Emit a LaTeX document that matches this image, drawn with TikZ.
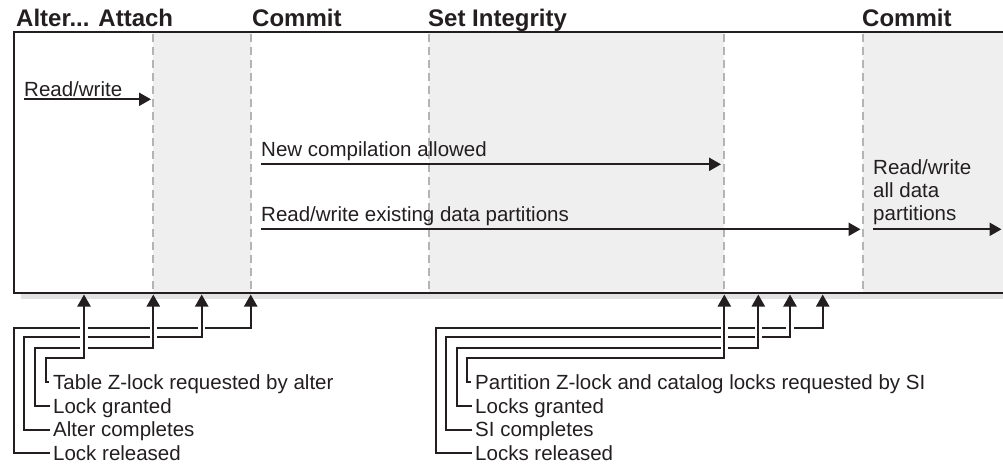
\documentclass[tikz,border=0pt]{standalone}
\usepackage{fontspec}
\setmainfont{Liberation Sans}
\usetikzlibrary{arrows.meta,calc}
\definecolor{phasegray}{HTML}{EFEFEF}
\definecolor{dashgray}{HTML}{B4B4B4}
\definecolor{shadowgray}{HTML}{E2E2E2}
\definecolor{ink}{HTML}{231F20}
\begin{document}
\begin{tikzpicture}[x=1pt,y=-1pt,
  title/.style={anchor=base west,inner sep=0pt,font=\fontsize{24}{28}\selectfont\bfseries,text=ink},
  lbl/.style={anchor=base west,inner sep=0pt,font=\fontsize{20.5}{23.3}\selectfont,text=ink},
  arr/.style={draw=ink,line width=2.2pt,-{Triangle[length=12pt,width=13pt]}},
  conn/.style={arr,preaction={draw=white,line width=7.5pt,arrows=-,shorten >=15pt}},
  divider/.style={draw=dashgray,line width=1.3pt,dash pattern=on 8pt off 5pt}]
\useasboundingbox (0,0) rectangle (1003,466);
% shaded phases
\fill[phasegray] (153,32.3) rectangle (251,292.7);
\fill[phasegray] (429,32.3) rectangle (724,292.7);
\fill[phasegray] (863,32.3) rectangle (1003,292.7);
\fill[shadowgray] (21,293) rectangle (1003,298.5);
% dividers
\foreach \x in {153,251,429,724,863} \draw[divider] (\x,33.5) -- (\x,291.7);
% box
\draw[ink,line width=2.2pt] (1003,32.3) -- (14,32.3) -- (14,292.7) -- (1003,292.7);
% titles
\node[title] (h1) at (16,26) {Alter... Attach};
\node[title] (h2) at (252,26) {Commit};
\node[title] (h3) at (428,26) {Set Integrity};
\node[title] (h4) at (862,26) {Commit};
% top arrows
\node[lbl] (rw1) at (24,96) {Read/write};
\coordinate (rw1e) at (151,99.3);
\draw[arr] (rw1.base west |- rw1e) -- (rw1e);
\node[lbl] (nc) at (261,156.7) {New compilation allowed};
\coordinate (nce) at (721,164.3);
\draw[arr] (nc.base west |- nce) -- (nce);
\node[lbl] (rwe) at (261,221.7) {Read/write existing data partitions};
\coordinate (rwee) at (860.5,229.3);
\draw[arr] (rwe.base west |- rwee) -- (rwee);
\node[lbl] (ra1) at (873,174) {Read/write};
\node[lbl] (ra2) at (873,197.3) {all data};
\node[lbl] (ra3) at (873,220.7) {partitions};
\coordinate (rae) at (1001.5,229.3);
\draw[arr] (ra3.base west |- rae) -- (rae);
% bottom left group
\node[lbl] (t1) at (53,389.3) {Table Z-lock requested by alter};
\node[lbl] (t2) at (53,413.3) {Lock granted};
\node[lbl] (t3) at (53,436.7) {Alter completes};
\node[lbl] (t4) at (53,460) {Lock released};
\coordinate (p1) at (84,294.5);
\coordinate (p2) at (153.3,294.5);
\coordinate (p3) at (201.7,294.5);
\coordinate (p4) at (250.7,294.5);
\draw[conn] ($(t4.base west)+(-3,-7)$) -| (14,327.7) -| (p4);
\draw[conn] ($(t3.base west)+(-3,-7)$) -| (24.3,337.3) -| (p3);
\draw[conn] ($(t2.base west)+(-3,-7)$) -| (35,347.7) -| (p2);
\draw[conn] ($(t1.base west)+(-4.5,-7)$) -| (45.7,358.3) -| (p1);
% bottom right group
\node[lbl] (s1) at (475,389.3) {Partition Z-lock and catalog locks requested by SI};
\node[lbl] (s2) at (475,413.3) {Locks granted};
\node[lbl] (s3) at (475,436.7) {SI completes};
\node[lbl] (s4) at (475,460) {Locks released};
\coordinate (q1) at (724.3,294.5);
\coordinate (q2) at (758.3,294.5);
\coordinate (q3) at (790,294.5);
\coordinate (q4) at (822.7,294.5);
\draw[conn] ($(s4.base west)+(-3,-7)$) -| (436,327.7) -| (q4);
\draw[conn] ($(s3.base west)+(-3,-7)$) -| (446,337.3) -| (q3);
\draw[conn] ($(s2.base west)+(-3,-7)$) -| (456.7,347.7) -| (q2);
\draw[conn] ($(s1.base west)+(-4.5,-7)$) -| (467.3,358.3) -| (q1);
\end{tikzpicture}
\end{document}
